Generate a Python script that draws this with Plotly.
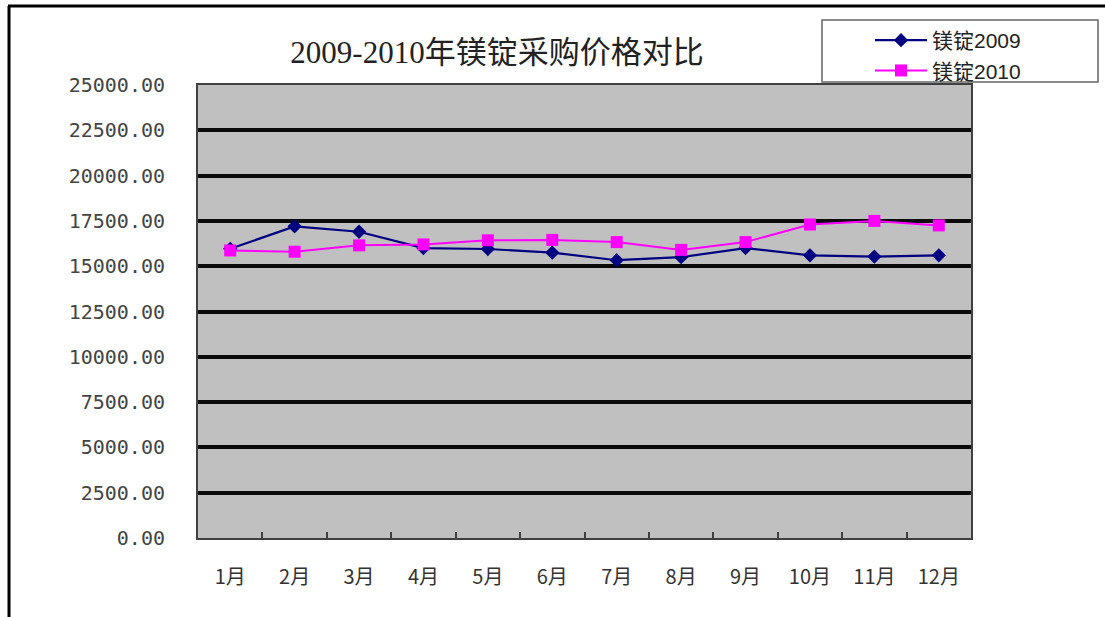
import plotly.graph_objects as go

months = ["1月", "2月", "3月", "4月", "5月", "6月", "7月", "8月", "9月", "10月", "11月", "12月"]
price_2009 = [15960, 17200, 16900, 16000, 15950, 15750, 15330, 15500, 16000, 15600, 15530, 15600]
price_2010 = [15870, 15800, 16150, 16200, 16430, 16450, 16330, 15900, 16330, 17300, 17500, 17250]
y_ticks = [0, 2500, 5000, 7500, 10000, 12500, 15000, 17500, 20000, 22500, 25000]
y_ticktext = [f"{v:.2f}" for v in y_ticks]
title_text = "2009-2010年镁锭采购价格对比"
names = ["镁锭2009", "镁锭2010"]

W, H = 1105, 617
L, R, T, B = 198, 971, 85, 538

fig = go.Figure()
fig.add_trace(go.Scatter(
    x=months, y=price_2009, name=names[0], mode="lines+markers",
    line=dict(color="#000080", width=2.2),
    marker=dict(symbol="diamond", size=11, color="#000080"),
))
fig.add_trace(go.Scatter(
    x=months, y=price_2010, name=names[1], mode="lines+markers",
    line=dict(color="#FF00FF", width=2),
    marker=dict(symbol="square", size=12, color="#FF00FF"),
))

def px_x(px):
    return (px - L) / (R - L)

def px_y(py):
    return (B - py) / (B - T)

fig.update_layout(
    width=W, height=H,
    margin=dict(l=L, r=W - R, t=T, b=H - B, pad=0),
    paper_bgcolor="white",
    plot_bgcolor="#C0C0C0",
    title=dict(
        text=title_text, x=px_x(497), xref="paper", xanchor="center",
        y=1 - 52 / H, yanchor="middle",
        font=dict(family="Liberation Serif, Noto Sans CJK SC", size=31, color="#222222"),
    ),
    showlegend=True,
    legend=dict(
        x=px_x(870), y=px_y(20), xanchor="left", yanchor="top",
        bgcolor="rgba(0,0,0,0)", borderwidth=0,
        font=dict(family="Liberation Sans, Noto Sans CJK SC", size=21, color="#222222"),
        itemwidth=52, tracegroupgap=0,
    ),
    xaxis=dict(
        type="category", range=[-0.5, len(months) - 0.5],
        tickson="boundaries", ticks="inside", ticklen=6,
        tickcolor="#404040", tickwidth=1.5,
        showgrid=False, showline=True, linecolor="#404040", linewidth=2, mirror=True,
        tickfont=dict(family="Noto Sans CJK SC", size=20, color="#333333"),
        ticklabelstandoff=20, zeroline=False,
    ),
    yaxis=dict(
        range=[0, 25000], tickvals=y_ticks, ticktext=y_ticktext, ticks="",
        showgrid=True, gridcolor="#0a0a0a", gridwidth=4,
        showline=True, linecolor="#404040", linewidth=2, mirror=True,
        tickfont=dict(family="DejaVu Sans Mono", size=20, color="#444444"),
        ticklabelstandoff=27, zeroline=False,
    ),
    shapes=[
        dict(type="line", xref="paper", yref="paper",
             x0=px_x(8), x1=px_x(W + 20), y0=px_y(6), y1=px_y(6),
             line=dict(color="black", width=3)),
        dict(type="line", xref="paper", yref="paper",
             x0=px_x(9), x1=px_x(9), y0=px_y(6), y1=px_y(H + 20),
             line=dict(color="black", width=3)),
        dict(type="rect", xref="paper", yref="paper",
             x0=px_x(822), x1=px_x(1098), y0=px_y(20), y1=px_y(82),
             fillcolor="white", line=dict(color="#666666", width=1.5)),
    ],
)

fig.write_html("out.html", config={"displayModeBar": False},
               post_script="document.body.style.margin='0';")
